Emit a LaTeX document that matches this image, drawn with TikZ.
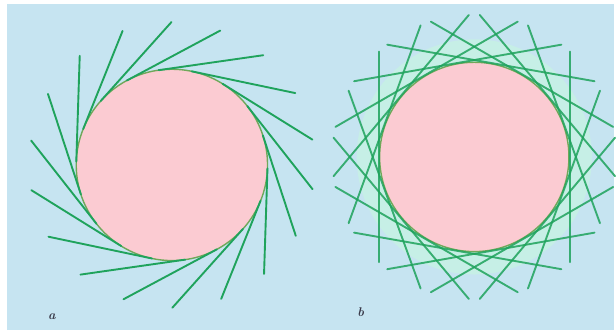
\documentclass[tikz,border=0pt]{standalone}
\usepackage{tikz}
\definecolor{hintergrund}{HTML}{C6E4F1}
\definecolor{scheibe}{HTML}{FBCBD2}
\definecolor{fadengruen}{HTML}{1FA35C}
\definecolor{zwischenraum}{HTML}{C6EFE6}
\definecolor{randoliv}{HTML}{6FA85A}
\definecolor{schrift}{HTML}{3A3A4A}

\begin{document}
\begin{tikzpicture}[x=0.025cm,y=0.025cm]
  \tikzset{faden/.style={fadengruen,line width=1.35pt,line cap=round},
    rand/.style={randoliv,line width=1pt,fill=scheibe},
    marke/.style={schrift,font=\small\itshape\bfseries,inner sep=0pt}}
  % Rahmen
  \fill[white] (0,0) rectangle (616,331);
  \fill[hintergrund] (7,0) rectangle (616,327);
  % Scheibe a: Tangenten nur in eine Richtung
  \begin{scope}[shift={(172.5,165.5)}]
    \draw[rand] (0,0) circle (96);
    \foreach \w in {0,20,...,340} {
      \draw[faden] (\w+138:96) -- (\w+90.2:143.3);
    }
  \end{scope}
  % Scheibe b: Tangenten nach beiden Seiten
  \begin{scope}[shift={(476,173.5)}]
    \fill[zwischenraum] (0,0) circle (118);
    \draw[rand] (0,0) circle (95);
    \foreach \w in {0,20,...,340} {
      \draw[faden,opacity=.85] (\w+47.8:142.6) -- (\w-47.8:142.6);
    }
  \end{scope}
  % Beschriftung
  \node[marke] (lbla) at (52,13) {a};
  \node[marke] (lblb) at (362,18) {b};
\end{tikzpicture}
\end{document}
